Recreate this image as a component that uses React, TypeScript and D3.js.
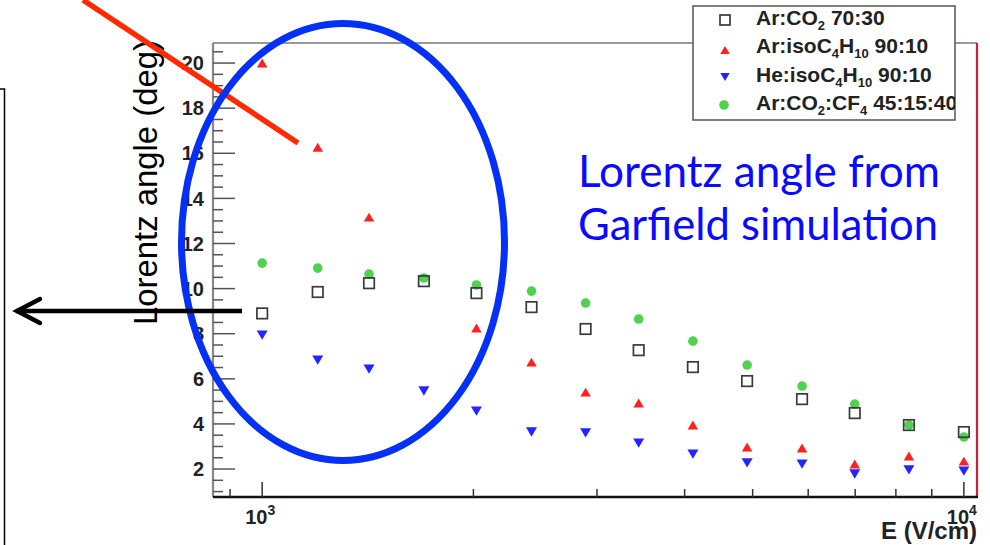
import React from "react";
import * as d3 from "d3";

// drift field values (V/cm), one per column of markers
const fields = [1000, 1200, 1420, 1700, 2020, 2420, 2890, 3440, 4110, 4910, 5880, 6990, 8350, 10000];

// Lorentz angle (deg) for each gas mixture
const arCo2 = [8.9, 9.85, 10.24, 10.33, 9.8, 9.18, 8.21, 7.27, 6.52, 5.9, 5.1, 4.48, 3.95, 3.64];
const arIso = [20.0, 16.27, 13.17, null, 8.25, 6.74, 5.41, 4.93, 3.95, 2.98, 2.93, 2.22, 2.58, 2.35];
const heIso = [7.94, 6.83, 6.43, 5.46, 4.57, 3.64, 3.6, 3.15, 2.66, 2.27, 2.22, 1.78, 1.96, 1.91];
const arCo2Cf4 = [11.13, 10.91, 10.64, 10.47, 10.16, 9.89, 9.36, 8.65, 7.67, 6.61, 5.68, 4.88, 3.95, 3.42];

const yTickLabels = [2, 4, 6, 8, 10, 12, 14, 16, 18, 20];

// legend labels, [text, subscript?]
const legendLabels: [string, boolean][][] = [
  [["Ar:CO", false], ["2", true], [" 70:30", false]],
  [["Ar:isoC", false], ["4", true], ["H", false], ["10", true], [" 90:10", false]],
  [["He:isoC", false], ["4", true], ["H", false], ["10", true], [" 90:10", false]],
  [["Ar:CO", false], ["2", true], [":CF", false], ["4", true], [" 45:15:40", false]],
];

const W = 990;
const H = 545;
const frame = { left: 213, right: 977, top: 43, bottom: 497 };

const x = d3.scaleLog().domain([851, 10440]).range([frame.left, frame.right]);
const y = d3.scaleLinear().domain([0.76, 20.89]).range([frame.bottom, frame.top]);

const SANS = "'Liberation Sans', Arial, Helvetica, sans-serif";

function Square({ cx, cy, s }: { cx: number; cy: number; s: number }) {
  return (
    <rect x={cx - s / 2} y={cy - s / 2} width={s} height={s} fill="none" stroke="#3a3a3a" strokeWidth={1.7} />
  );
}

function Tri({ cx, cy, s, up, fill }: { cx: number; cy: number; s: number; up: boolean; fill: string }) {
  const h = s * 0.85;
  const pts = up
    ? `${cx - s / 2},${cy + h / 2} ${cx + s / 2},${cy + h / 2} ${cx},${cy - h / 2}`
    : `${cx - s / 2},${cy - h / 2} ${cx + s / 2},${cy - h / 2} ${cx},${cy + h / 2}`;
  return <polygon points={pts} fill={fill} />;
}

function Label({ parts, px, py }: { parts: [string, boolean][]; px: number; py: number }) {
  let shift = 0;
  return (
    <text x={px} y={py} fontFamily={SANS} fontWeight="bold" fontSize={21} fill="#222">
      {parts.map(([t, sub], i) => {
        const target = sub ? 5 : 0;
        const dy = target - shift;
        shift = target;
        return (
          <tspan key={i} dy={dy} fontSize={sub ? 13 : 21}>
            {t}
          </tspan>
        );
      })}
    </text>
  );
}

const RED = "#ff2020";
const BLUE = "#2424ff";
const GREEN = "#4fd24f";

export default function App() {
  const yMinor = d3.range(1, 20.6, 0.5).filter(v => v % 2 !== 0);
  const xTicks = x.ticks();
  const isDecade = (v: number) => Math.abs(Math.log10(v) - Math.round(Math.log10(v))) < 1e-6;

  const legendRows = [25, 53, 82, 110];

  return (
    <svg width={W} height={H} style={{ position: "absolute", left: 0, top: 0, background: "#fff" }}>
      <defs>
        <clipPath id="legclip">
          <rect x={693} y={6} width={262} height={114} />
        </clipPath>
      </defs>
      <rect width={W} height={H} fill="#fff" />

      {/* frame */}
      <line x1={frame.left} x2={frame.right} y1={frame.top} y2={frame.top} stroke="#777" strokeWidth={1.5} />
      <line x1={frame.right} x2={frame.right} y1={frame.top} y2={frame.bottom} stroke="#d21f36" strokeWidth={2.2} />

      {/* y axis */}
      <line x1={frame.left} x2={frame.left} y1={frame.top} y2={frame.bottom} stroke="#888" strokeWidth={2.2} />
      {yMinor.map(v => (
        <line key={"m" + v} x1={frame.left} x2={frame.left + 10} y1={y(v)} y2={y(v)} stroke="#555" strokeWidth={1.5} />
      ))}
      {yTickLabels.map(v => (
        <g key={v}>
          <line x1={frame.left} x2={frame.left + 22} y1={y(v)} y2={y(v)} stroke="#555" strokeWidth={1.5} />
          <text x={204} y={y(v)} dy="0.36em" textAnchor="end" fontFamily={SANS} fontWeight="bold" fontSize={20} fill="#222">
            {v}
          </text>
        </g>
      ))}

      {/* x axis */}
      <line x1={frame.left} x2={frame.right + 1} y1={frame.bottom} y2={frame.bottom} stroke="#111" strokeWidth={2.4} />
      {xTicks.map(v => (
        <line
          key={v}
          x1={x(v)}
          x2={x(v)}
          y1={frame.bottom}
          y2={frame.bottom - (isDecade(v) ? 15 : 8)}
          stroke="#333"
          strokeWidth={1.5}
        />
      ))}
      {xTicks.filter(isDecade).map(v => (
        <text key={"l" + v} x={x(v) - 2} y={524} textAnchor="middle" fontFamily={SANS} fontWeight="bold" fontSize={20} fill="#222">
          10
          <tspan dy={-9} fontSize={14}>
            {Math.round(Math.log10(v))}
          </tspan>
        </text>
      ))}
      <text x={977} y={539} textAnchor="end" fontFamily={SANS} fontWeight="bold" fontSize={24} fill="#222">
        E (V/cm)
      </text>

      {/* markers */}
      {arCo2Cf4.map((v, i) => (
        <circle key={"g" + i} cx={x(fields[i])} cy={y(v)} r={4.8} fill={GREEN} />
      ))}
      {arCo2.map((v, i) => (
        <Square key={"s" + i} cx={x(fields[i])} cy={y(v)} s={10.5} />
      ))}
      {arIso.map((v, i) =>
        v == null ? null : <Tri key={"r" + i} cx={x(fields[i])} cy={y(v)} s={10.5} up fill={RED} />
      )}
      {heIso.map((v, i) => (
        <Tri key={"b" + i} cx={x(fields[i])} cy={y(v)} s={11} up={false} fill={BLUE} />
      ))}

      {/* legend */}
      <rect x={693} y={6} width={262} height={114} fill="#fff" stroke="#555" strokeWidth={1.5} />
      <Square cx={725} cy={legendRows[0] - 5} s={10} />
      <Tri cx={725} cy={legendRows[1] - 3} s={9.5} up fill={RED} />
      <Tri cx={725} cy={legendRows[2] - 5} s={9.5} up={false} fill={BLUE} />
      <circle cx={724} cy={legendRows[3] - 5} r={4.8} fill={GREEN} />
      <g clipPath="url(#legclip)">
        {legendLabels.map((parts, i) => (
          <Label key={i} parts={parts} px={756} py={legendRows[i]} />
        ))}
      </g>

      {/* slide annotations */}
      <text
        transform="translate(157,325) rotate(-90)"
        fontFamily={SANS}
        fontSize={34}
        fill="#000"
        textLength={285}
        lengthAdjust="spacingAndGlyphs"
      >
        Lorentz angle (deg)
      </text>
      <line x1={83} y1={0} x2={298} y2={143} stroke="#ff2a00" strokeWidth={5.5} />
      <ellipse cx={343} cy={242} rx={161.5} ry={218.5} fill="none" stroke="#0530f5" strokeWidth={7} />
      <line x1={16} y1={311} x2={242} y2={311} stroke="#000" strokeWidth={4.5} />
      <polyline points="40,299 17,311 40,323" fill="none" stroke="#000" strokeWidth={4.5} strokeLinecap="round" />
      <polyline points="0,89 4.5,89 4.5,545" fill="none" stroke="#000" strokeWidth={1.5} />
      <text x={578} y={187} fontFamily="Lato, 'Open Sans', sans-serif" fontSize={44} fill="#0a0aff" textLength={362} lengthAdjust="spacingAndGlyphs">
        Lorentz angle from
      </text>
      <text x={578} y={240} fontFamily="Lato, 'Open Sans', sans-serif" fontSize={44} fill="#0a0aff" textLength={360} lengthAdjust="spacingAndGlyphs">
        Garfield simulation
      </text>
    </svg>
  );
}
